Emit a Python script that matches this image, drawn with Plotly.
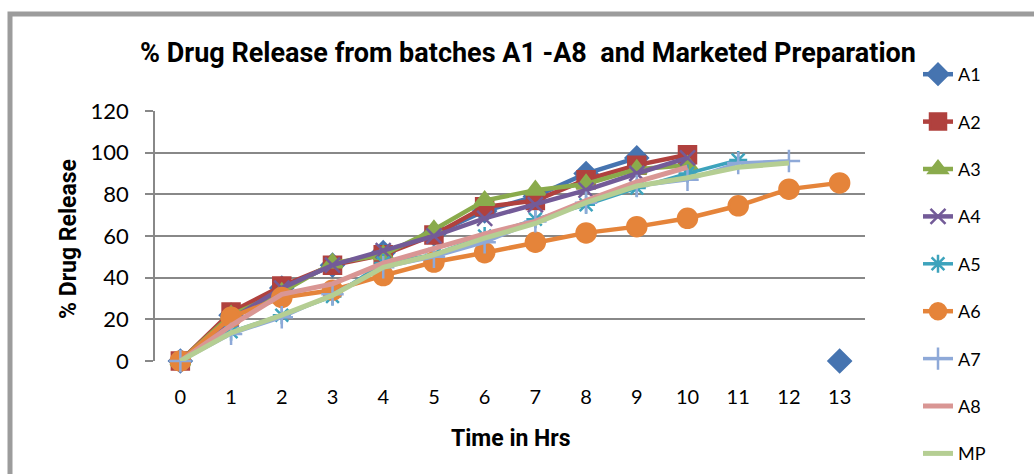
import plotly.graph_objects as go

# Dissolution time points (hours)
hours = list(range(14))

# Cumulative % drug release per batch (None = not sampled)
a1 = [0, 22, 35, 46, 52, 61, 72, 79, 90, 97.5, None, None, None, 0]
a2 = [0, 23.5, 36, 46, 51, 60.5, 74, 77, 87, 94, 99, None, None, None]
a3 = [0, 22, 33, 47, 51, 63, 77, 82, 85, 92, 94, None, None, None]
a4 = [0, 20, 35, 46, 53, 60, 68.5, 75, 82, 90, 97.5, None, None, None]
a5 = [0, 14, 22, 31, 47, 51, 60, 68, 75, 83, 90, 96.5, None, None]
a6 = [0, 21, 30.5, 34, 41, 47.5, 52, 57, 61.5, 64.5, 68.5, 74.5, 82.5, 85.5]
a7 = [0, 13, 21, 32, 45, 50, 57, 67, 76, 84, 87, 95, 96, None]
a8 = [0, 17, 32, 37, 47, 54, 61, 67, 77, 86, 93, None, None, None]
mp = [0, 13.5, 22, 31.5, 45, 51, 59, 66, 76, 84, 88, 93, 95, None]

y_ticks = [0, 20, 40, 60, 80, 100, 120]

series = [
    ("A1", a1, "#4674B0", "diamond", 17, 4.5),
    ("A2", a2, "#B0413E", "square", 17, 4.5),
    ("A3", a3, "#8AAB4C", "triangle-up", 17, 4.5),
    ("A4", a4, "#735B98", "x-thin-open", 15, 4.5),
    ("A5", a5, "#3DA3BC", "asterisk-open", 15, 3.5),
    ("A6", a6, "#E5843A", "circle", 19, 4.5),
    ("A7", a7, "#8EA9D8", "cross-thin-open", 16, 3.5),
    ("A8", a8, "#D99694", None, 0, 5),
    ("MP", mp, "#B5CE93", None, 0, 5),
]

fig = go.Figure()
for name, vals, color, symbol, size, lw in series:
    marker = dict(color=color, size=size, symbol=symbol or "circle",
                  line=dict(color=color, width=2.5))
    fig.add_trace(go.Scatter(
        x=hours, y=vals, name=name, legendgroup=name,
        mode="lines+markers" if symbol else "lines",
        line=dict(color=color, width=lw),
        marker=marker if symbol else None,
        connectgaps=False, cliponaxis=False,
    ))

L, R, T, B = 155, 865, 111, 361
W, H = 1034, 474


def px_x(p):
    return (p - L) / (R - L)


def px_y(p):
    return (B - p) / (B - T)


# Chart frame (left and top edges visible)
fig.add_shape(type="rect", xref="paper", yref="paper",
              x0=px_x(10), x1=px_x(1045), y0=px_y(485), y1=px_y(14),
              line=dict(color="#9C9C9C", width=5), layer="below")

fig.update_layout(
    width=W, height=H,
    margin=dict(l=L, r=W - R, t=T, b=H - B),
    paper_bgcolor="white", plot_bgcolor="white",
    title=dict(text="<b>% Drug Release from batches A1 -A8  and Marketed Preparation</b>",
               x=px_x(528), xref="paper", xanchor="center",
               y=1 - 53 / H, yref="container", yanchor="middle",
               font=dict(family="Roboto, Lato", size=27, color="#000000")),
    font=dict(family="Lato, Carlito, Calibri", color="#000000"),
    showlegend=True,
    legend=dict(x=px_x(918), xanchor="left", y=px_y(56), yanchor="top",
                font=dict(size=18, family="Lato"), tracegroupgap=21,
                maxheight=700, bgcolor="rgba(0,0,0,0)"),
    xaxis=dict(range=[-0.5, 13.5], tickmode="array", tickvals=hours,
               ticktext=[str(h) for h in hours], showgrid=False, zeroline=False,
               showline=False, ticks="", ticklabelstandoff=22,
               tickfont=dict(size=20, family="Lato")),
    yaxis=dict(range=[0, 120], tickmode="array", tickvals=y_ticks,
               showgrid=True, gridcolor="#888888", gridwidth=1.8, zeroline=False,
               showline=True, linecolor="#888888", linewidth=1.8,
               ticks="outside", ticklen=8, tickcolor="#888888", tickwidth=1.8,
               ticklabelstandoff=12, tickfont=dict(size=22, family="Lato")),
    annotations=[
        dict(text="<b>% Drug Release</b>", xref="paper", yref="paper",
             x=px_x(68), y=px_y(239), xanchor="center", yanchor="middle",
             textangle=-90, showarrow=False,
             font=dict(size=23, family="Roboto, Lato")),
        dict(text="<b>Time in Hrs</b>", xref="paper", yref="paper",
             x=px_x(511), y=px_y(438), xanchor="center", yanchor="middle",
             showarrow=False,
             font=dict(size=23, family="Roboto, Lato")),
    ],
)

fig.write_html("out.html")
